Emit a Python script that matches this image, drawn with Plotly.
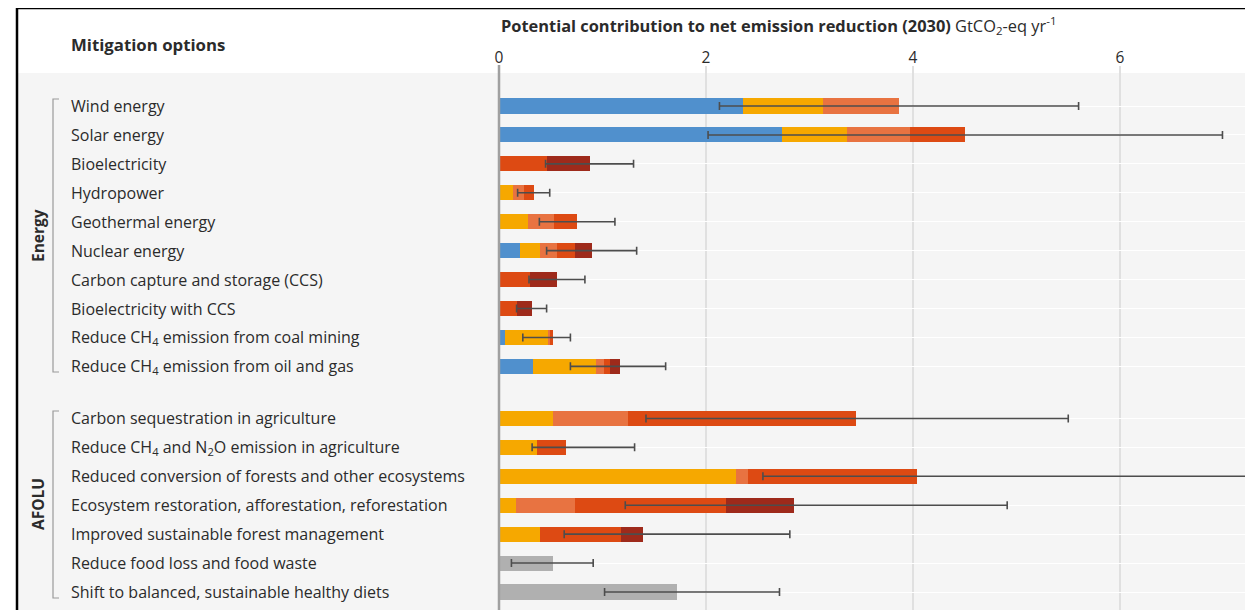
import plotly.graph_objects as go

energy_options = [
    "Wind energy", "Solar energy", "Bioelectricity", "Hydropower",
    "Geothermal energy", "Nuclear energy", "Carbon capture and storage (CCS)",
    "Bioelectricity with CCS", "Reduce CH<sub>4</sub> emission from coal mining",
    "Reduce CH<sub>4</sub> emission from oil and gas",
]
afolu_options = [
    "Carbon sequestration in agriculture",
    "Reduce CH<sub>4</sub> and N<sub>2</sub>O emission in agriculture",
    "Reduced conversion of forests and other ecosystems",
    "Ecosystem restoration, afforestation, reforestation",
    "Improved sustainable forest management",
    "Reduce food loss and food waste",
    "Shift to balanced, sustainable healthy diets",
]
options = energy_options + afolu_options

# cost segments (GtCO2-eq/yr), energy rows then AFOLU rows
cost_negative = [2.36, 2.73, 0, 0, 0, 0.20, 0, 0, 0.06, 0.33,
                 0, 0, 0, 0, 0, 0, 0]
cost_0_20 = [0.77, 0.63, 0, 0.14, 0.28, 0.20, 0, 0, 0.41, 0.61,
             0.52, 0.37, 2.29, 0.16, 0.40, 0, 0]
cost_20_50 = [0.73, 0.61, 0, 0.10, 0.25, 0.16, 0, 0, 0.02, 0.07,
              0.73, 0, 0.12, 0.57, 0, 0, 0]
cost_50_100 = [0, 0.53, 0.46, 0.10, 0.22, 0.17, 0.30, 0.17, 0.03, 0.06,
               2.20, 0.28, 1.63, 1.46, 0.78, 0, 0]
cost_100_200 = [0, 0, 0.42, 0, 0, 0.17, 0.26, 0.15, 0, 0.10,
                0, 0, 0, 0.66, 0.21, 0, 0]
cost_not_allocated = [0, 0, 0, 0, 0, 0, 0, 0, 0, 0,
                      0, 0, 0, 0, 0, 0.52, 1.72]

range_low = [2.13, 2.02, 0.45, 0.18, 0.39, 0.46, 0.29, 0.17, 0.23, 0.69,
             1.42, 0.32, 2.55, 1.22, 0.63, 0.12, 1.02]
range_high = [5.60, 6.99, 1.30, 0.49, 1.12, 1.33, 0.83, 0.46, 0.69, 1.61,
              5.50, 1.31, 7.90, 4.91, 2.81, 0.91, 2.71]

x_ticks = [0, 2, 4, 6]

# ---- layout helpers (page has an 8px body margin) ----
OFF = 8
W, H = 1253 - OFF, 610 - OFF
L, T = 499 - OFF, 73 - OFF
group_gap = 0.8
ypos = list(range(len(energy_options))) + [len(energy_options) + group_gap + i for i in range(len(afolu_options))]

segments = [
    (cost_negative, "#5090cd"),
    (cost_0_20, "#f6a800"),
    (cost_20_50, "#e87341"),
    (cost_50_100, "#dd4a13"),
    (cost_100_200, "#9e2a1b"),
    (cost_not_allocated, "#b0b0b0"),
]

fig = go.Figure()
for vals, col in segments:
    fig.add_trace(go.Bar(
        x=[v if v else None for v in vals], y=ypos, orientation="h", width=0.52,
        marker=dict(color=col, line=dict(width=0)),
        showlegend=False, hoverinfo="skip",
    ))

mid = [(a + b) / 2 for a, b in zip(range_low, range_high)]
half = [(b - a) / 2 for a, b in zip(range_low, range_high)]
fig.add_trace(go.Scatter(
    x=mid, y=ypos, mode="markers",
    marker=dict(size=1, opacity=0),
    error_x=dict(type="data", array=half, symmetric=True,
                 color="#4d4d4d", thickness=1.6, width=4),
    showlegend=False, hoverinfo="skip",
))

xmax = (W - L) / 103.5
ymin = -33 / 28.93
ymax = ypos[-1] + 18 / 28.93

fig.update_layout(
    width=W, height=H,
    margin=dict(l=L, r=0, t=T, b=0),
    barmode="stack",
    paper_bgcolor="white",
    plot_bgcolor="#f5f5f5",
    font=dict(family="Open Sans", size=16, color="#2b2b2b"),
    xaxis=dict(range=[0, xmax], side="top", tickvals=x_ticks,
               ticktext=[str(v) for v in x_ticks], showgrid=False,
               zeroline=False, showline=False, ticks="",
               ticklabelstandoff=6,
               tickfont=dict(size=15.5, color="#2b2b2b")),
    yaxis=dict(range=[ymax, ymin], tickvals=ypos, showticklabels=False,
               showgrid=True, gridcolor="#ffffff", gridwidth=1,
               zeroline=False, showline=False, ticks=""),
)

pw = W - L
ph = H - T
def px_x(p):
    return (p - OFF - L) / pw
def px_y(p):
    return 1 - (p - OFF - T) / ph

shapes = []
shapes.append(dict(type="rect", xref="paper", yref="paper", x0=px_x(17), x1=0, y0=0, y1=1,
                   fillcolor="#f5f5f5", line=dict(width=0), layer="below"))
for v in x_ticks[1:]:
    shapes.append(dict(type="line", xref="x", yref="paper", x0=v, x1=v, y0=0, y1=px_y(66),
                       line=dict(color="#e0e0e0", width=2), layer="below"))
shapes.append(dict(type="line", xref="paper", yref="paper", x0=0, x1=0, y0=0, y1=px_y(65),
                   line=dict(color="#a0a0a0", width=2.5)))
shapes.append(dict(type="line", xref="paper", yref="paper", x0=px_x(16), x1=1, y0=px_y(8), y1=px_y(8),
                   line=dict(color="black", width=2.5)))
shapes.append(dict(type="line", xref="paper", yref="paper", x0=px_x(17), x1=px_x(17), y0=0, y1=px_y(8),
                   line=dict(color="black", width=2.5)))
for top, bot in [(99, 372), (411, 598)]:
    shapes.append(dict(type="path", xref="paper", yref="paper",
                       path=f"M {px_x(59)},{px_y(top)} L {px_x(53)},{px_y(top)} L {px_x(53)},{px_y(bot)} L {px_x(59)},{px_y(bot)}",
                       line=dict(color="#9a9a9a", width=1.2)))
fig.update_layout(shapes=shapes)

ann = []
for name, yp in zip(options, ypos):
    ann.append(dict(x=px_x(69), xref="paper", y=yp, yref="y", text=name, showarrow=False,
                    xanchor="left", yanchor="middle", font=dict(size=16, color="#2b2b2b")))
ann.append(dict(x=px_x(69), xref="paper", y=px_y(44), yref="paper", text="<b>Mitigation options</b>",
                showarrow=False, xanchor="left", yanchor="middle", font=dict(size=16.8, color="#2b2b2b")))
ann.append(dict(x=0, xref="paper", y=px_y(25), yref="paper",
                text="<b>Potential contribution to net emission reduction (2030)</b> GtCO<sub>2</sub>-eq yr<sup>-1</sup>",
                showarrow=False, xanchor="left", yanchor="middle", font=dict(size=16.4, color="#2b2b2b")))
ann.append(dict(x=px_x(38), xref="paper", y=px_y(236), yref="paper", text="<b>Energy</b>", textangle=-90,
                showarrow=False, xanchor="center", yanchor="middle", font=dict(size=15.5, color="#2b2b2b")))
ann.append(dict(x=px_x(38), xref="paper", y=px_y(504), yref="paper", text="<b>AFOLU</b>", textangle=-90,
                showarrow=False, xanchor="center", yanchor="middle", font=dict(size=15.5, color="#2b2b2b")))
fig.update_layout(annotations=ann)

fig.write_html("out.html")
